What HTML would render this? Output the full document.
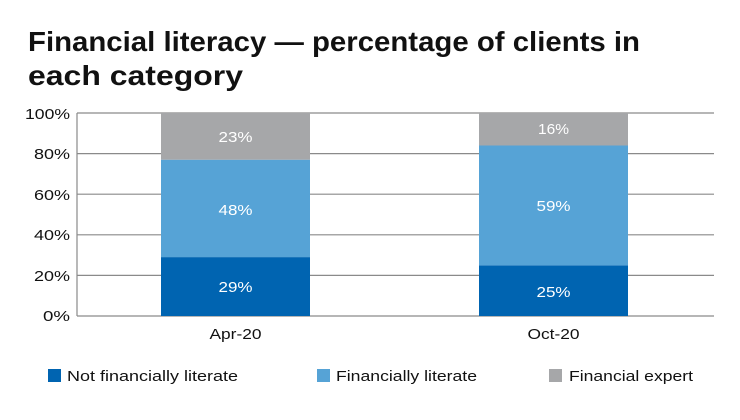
<!DOCTYPE html>
<html><head><style>
body{margin:0;background:#fff;}
svg text{font-family:"Liberation Sans",sans-serif;}
</style></head><body>
<svg width="740" height="415" viewBox="0 0 740 415" xmlns="http://www.w3.org/2000/svg">
<text x="28" y="51" font-size="28" font-weight="bold" fill="#111" textLength="612" lengthAdjust="spacingAndGlyphs">Financial literacy — percentage of clients in</text>
<text x="28" y="85" font-size="28" font-weight="bold" fill="#111" textLength="215" lengthAdjust="spacingAndGlyphs">each category</text>
<g stroke="#8a8a8a" stroke-width="1.2">
<line x1="77" y1="113" x2="714" y2="113"/>
<line x1="77" y1="153.6" x2="714" y2="153.6"/>
<line x1="77" y1="194.2" x2="714" y2="194.2"/>
<line x1="77" y1="234.8" x2="714" y2="234.8"/>
<line x1="77" y1="275.4" x2="714" y2="275.4"/>
<line x1="77" y1="316" x2="714" y2="316"/>
<line x1="77" y1="113" x2="77" y2="316"/>
</g>
<g font-size="15" fill="#111" text-anchor="end">
<text x="70" y="119" textLength="45" lengthAdjust="spacingAndGlyphs">100%</text>
<text x="70" y="159" textLength="36" lengthAdjust="spacingAndGlyphs">80%</text>
<text x="70" y="200" textLength="36" lengthAdjust="spacingAndGlyphs">60%</text>
<text x="70" y="240" textLength="36" lengthAdjust="spacingAndGlyphs">40%</text>
<text x="70" y="281" textLength="36" lengthAdjust="spacingAndGlyphs">20%</text>
<text x="70" y="321" textLength="27" lengthAdjust="spacingAndGlyphs">0%</text>
</g>
<rect x="161" y="257.1" width="149" height="58.9" fill="#0064b1"/>
<rect x="161" y="159.7" width="149" height="97.4" fill="#56a3d6"/>
<rect x="161" y="113" width="149" height="46.7" fill="#a6a7a9"/>
<rect x="479" y="265.3" width="149" height="50.7" fill="#0064b1"/>
<rect x="479" y="145.5" width="149" height="119.8" fill="#56a3d6"/>
<rect x="479" y="113" width="149" height="32.5" fill="#a6a7a9"/>
<g font-size="15" fill="#fff" text-anchor="middle">
<text x="235.5" y="292" textLength="34" lengthAdjust="spacingAndGlyphs">29%</text>
<text x="235.5" y="215" textLength="34" lengthAdjust="spacingAndGlyphs">48%</text>
<text x="235.5" y="142" textLength="34" lengthAdjust="spacingAndGlyphs">23%</text>
<text x="553.5" y="297" textLength="34" lengthAdjust="spacingAndGlyphs">25%</text>
<text x="553.5" y="211" textLength="34" lengthAdjust="spacingAndGlyphs">59%</text>
<text x="553.5" y="134" textLength="31" lengthAdjust="spacingAndGlyphs">16%</text>
</g>
<g font-size="15" fill="#111" text-anchor="middle">
<text x="235.5" y="339" textLength="52" lengthAdjust="spacingAndGlyphs">Apr-20</text>
<text x="553.5" y="339" textLength="52" lengthAdjust="spacingAndGlyphs">Oct-20</text>
</g>
<rect x="48" y="369" width="13" height="13" fill="#0064b1"/>
<text x="67" y="381" font-size="15" fill="#111" textLength="171" lengthAdjust="spacingAndGlyphs">Not financially literate</text>
<rect x="317" y="369" width="13" height="13" fill="#56a3d6"/>
<text x="336" y="381" font-size="15" fill="#111" textLength="141" lengthAdjust="spacingAndGlyphs">Financially literate</text>
<rect x="549" y="369" width="13" height="13" fill="#a6a7a9"/>
<text x="569" y="381" font-size="15" fill="#111" textLength="124" lengthAdjust="spacingAndGlyphs">Financial expert</text>
</svg>
</body></html>
